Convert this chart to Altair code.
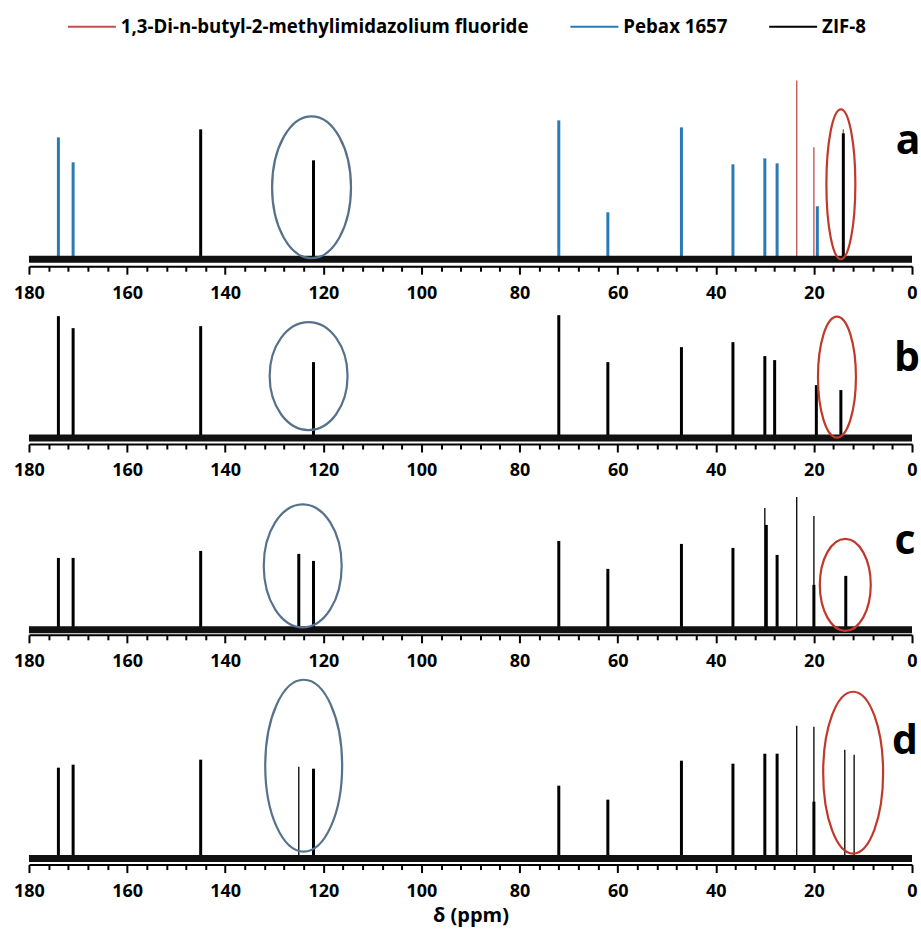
import altair as alt
import pandas as pd

# ---------------- data ----------------
IL = "1,3-Di-n-butyl-2-methylimidazolium fluoride"
PEBAX = "Pebax 1657"
ZIF = "ZIF-8"
SERIES = [IL, PEBAX, ZIF]
COLORS = ["#C0504D", "#2A7AB5", "#000000"]

# panel a: the three pure components
a_il_ppm = [145, 122, 47, 30, 23.5, 20, 14]
a_il_int = [125, 95, 80, 95, 179, 112, 130]
a_pebax_ppm = [174, 171, 72, 62, 47, 36.5, 30, 27.5, 19.3]
a_pebax_int = [122, 97, 139, 47, 132, 95, 101, 96, 53]
a_zif_ppm = [145, 122, 14]
a_zif_int = [130, 99, 126]

# panel b
b_ppm = [174, 171, 145, 122, 72, 62, 47, 36.5, 30, 28, 19.5, 14.5]
b_int = [122, 110, 112, 76, 123, 76, 91, 96, 82, 78, 53, 48]

# panel c (broad and sharp lines)
c_thick_ppm = [174, 171, 145, 125, 122, 72, 62, 47, 36.5, 29.7, 27.5, 20, 13.5]
c_thick_int = [72, 72, 79, 76, 69, 89, 61, 86, 82, 105, 75, 45, 54]
c_thin_ppm = [30, 23.5, 20]
c_thin_int = [122, 133, 114]

# panel d
d_thick_ppm = [174, 171, 145, 122, 72, 62, 47, 36.5, 30, 27.5, 20]
d_thick_int = [91, 94, 99, 90, 73, 59, 98, 95, 105, 105, 57]
d_thin_ppm = [125, 23.5, 20, 13.7, 11.8]
d_thin_int = [92, 133, 132, 109, 104]

# highlighted regions (centre ppm, centre intensity)
rings_ppm = {"a": [122.4, 14.5], "b": [123, 15.3], "c": [124.2, 13.6], "d": [124, 12]}
rings_int = {"a": [72, 75], "b": [62, 61], "c": [64, 45], "d": [93, 86]}

panel_letters = ["a", "b", "c", "d"]
spectral_range = [180, 0]
tick_values = list(range(0, 181, 4))

# ---------------- styling ----------------
FONT = "Open Sans"
W = 884
RING_BLUE = "#56718C"
RING_RED = "#C0392B"
ring_dims = {  # ellipse (width, height) in px
    "a": [(79, 142), (29, 150)],
    "b": [(78, 108), (38, 121)],
    "c": [(78, 123), (51, 92)],
    "d": [(77, 172), (60, 162)],
}
panel_h = {"a": 203, "b": 138, "c": 151, "d": 179}
panel_ymin = {"a": -7, "b": -6, "c": -5, "d": -6}
letter_pos = {"a": (880, 91), "b": (879, 65), "c": (877, 70), "d": (877, 68)}


def ellipse_path(w, h):
    r = round(w / h, 4)
    return f"M{-r},0 A{r},1 0 1,0 {r},0 A{r},1 0 1,0 {-r},0 Z"


def x_enc(field, last):
    return alt.X(
        field,
        type="quantitative",
        scale=alt.Scale(domain=spectral_range, nice=False, zero=False),
        axis=alt.Axis(
            values=tick_values,
            labelExpr="datum.value % 20 === 0 ? datum.label : ''",
            tickSize={"condition": {"test": "datum.value % 20 === 0", "value": 8}, "value": 5},
            labelFlush=False,
            labelOverlap=False,
            grid=False,
            title="δ (ppm)" if last else None,
        ),
    )


def y_enc(key):
    return alt.Y(
        "intensity:Q",
        scale=alt.Scale(domain=[panel_ymin[key], panel_h[key] + panel_ymin[key]], nice=False, zero=False),
        axis=None,
    )


def rules(ppm, inten, width, color, key, last, series=None):
    df = pd.DataFrame({"ppm": ppm, "intensity": inten})
    enc = dict(x=x_enc("ppm", last), y=y_enc(key), y2=alt.datum(0))
    if series is not None:
        df["series"] = series
        enc["color"] = alt.Color(
            "series:N",
            scale=alt.Scale(domain=SERIES, range=COLORS),
            legend=alt.Legend(
                title=None,
                orient="none",
                direction="horizontal",
                legendX=38,
                legendY=-62,
                symbolType="stroke",
                symbolSize=2304,
                symbolStrokeWidth=2,
                labelFont=FONT,
                labelFontSize=18.7,
                labelFontWeight="bold",
                labelColor="#000",
                labelLimit=0,
                labelOffset=4,
                columnPadding=37,
            ),
        )
        return alt.Chart(df).mark_rule(strokeWidth=width).encode(**enc)
    return alt.Chart(df).mark_rule(strokeWidth=width, color=color).encode(**enc)


def baseline(key, last):
    df = pd.DataFrame({"start": [spectral_range[0]], "end": [spectral_range[1]], "intensity": [0]})
    return alt.Chart(df).mark_rule(strokeWidth=7, color="#111111").encode(
        x=x_enc("start", last), x2="end", y=y_enc(key)
    )


def rings(key, last):
    layers = []
    for i, col in enumerate([RING_BLUE, RING_RED]):
        w, h = ring_dims[key][i]
        df = pd.DataFrame({"ppm": [rings_ppm[key][i]], "intensity": [rings_int[key][i]]})
        layers.append(
            alt.Chart(df)
            .mark_point(shape=ellipse_path(w, h), size=h * h, filled=False,
                        stroke=col, strokeWidth=2.2, opacity=1)
            .encode(x=x_enc("ppm", last), y=y_enc(key))
        )
    return layers


def letter(key):
    px, py = letter_pos[key]
    df = pd.DataFrame({"letter": [key]})
    return alt.Chart(df).mark_text(
        font=FONT, fontSize=41, fontWeight="bold", color="#000",
        align="center", baseline="alphabetic",
    ).encode(text="letter:N", x=alt.value(px), y=alt.value(py))


def panel(key, layers, last=False):
    return alt.layer(*layers, *rings(key, last), letter(key)).properties(
        width=W, height=panel_h[key]
    )


pa = panel("a", [
    rules(a_il_ppm, a_il_int, 1.3, None, "a", False, IL),
    rules(a_pebax_ppm, a_pebax_int, 3, None, "a", False, PEBAX),
    rules(a_zif_ppm, a_zif_int, 3, None, "a", False, ZIF),
    baseline("a", False),
])
pb = panel("b", [
    rules(b_ppm, b_int, 3, "#000", "b", False),
    baseline("b", False),
])
pc = panel("c", [
    rules(c_thick_ppm, c_thick_int, 3, "#000", "c", False),
    rules(c_thin_ppm, c_thin_int, 1.3, "#000", "c", False),
    baseline("c", False),
])
pd_ = panel("d", [
    rules(d_thick_ppm, d_thick_int, 3, "#000", "d", True),
    rules(d_thin_ppm, d_thin_int, 1.3, "#000", "d", True),
    baseline("d", True),
], last=True)

chart = (
    alt.vconcat(pa, pb, pc, pd_, spacing=4)
    .properties(padding={"left": 13, "top": 1, "right": 0, "bottom": 8}, background="white")
    .configure_view(stroke=None)
    .configure_axis(
        domainColor="#000", domainWidth=2, tickColor="#000", tickWidth=2,
        labelFont=FONT, labelFontSize=18, labelFontWeight="bold", labelColor="#000",
        labelPadding=10, titleFont=FONT, titleFontSize=20, titleFontWeight="bold",
        titleColor="#000", titlePadding=5,
    )
)

chart.save("out.html", embed_options={"renderer": "svg", "actions": False})
